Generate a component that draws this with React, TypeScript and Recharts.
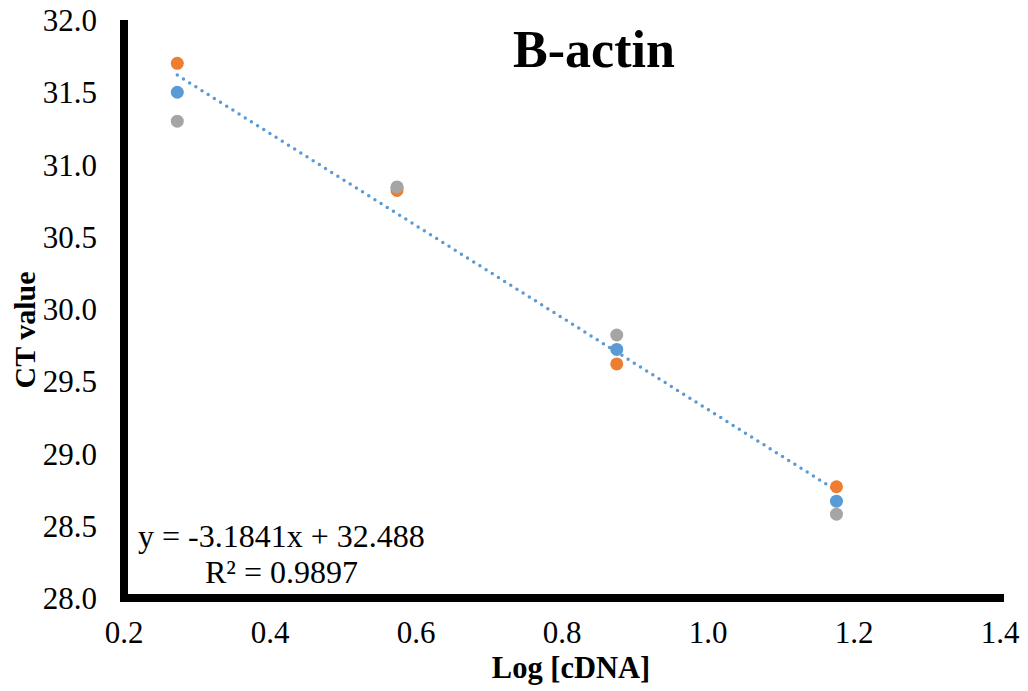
import React from 'react';
import { ScatterChart, Scatter, XAxis, YAxis, Customized } from 'recharts';

const xValues = [0.273, 0.574, 0.875, 1.176];
const series1 = [31.5, 30.84, 29.72, 28.67];
const series2 = [31.7, 30.82, 29.62, 28.77];
const series3 = [31.3, 30.845, 29.82, 28.58];
const xTicks = [0.2, 0.4, 0.6, 0.8, 1.0, 1.2, 1.4];
const yTicks = [28.0, 28.5, 29.0, 29.5, 30.0, 30.5, 31.0, 31.5, 32.0];
const slope = -3.1841;
const intercept = 32.488;
const r2 = 0.9897;

const toPoints = (ys: number[]) => xValues.map((x, i) => ({ x, y: ys[i] }));
const d1 = toPoints(series1);
const d2 = toPoints(series2);
const d3 = toPoints(series3);
const xMin = xValues[0];
const xMax = xValues[xValues.length - 1];
const trend = [
  { x: xMin, y: slope * xMin + intercept },
  { x: xMax, y: slope * xMax + intercept },
];

const FONT = "'Liberation Serif', 'Times New Roman', serif";
const BLUE = '#5B9BD5';
const ORANGE = '#ED7D31';
const GRAY = '#A5A5A5';

const dot = (color: string) => (props: any) => (
  <circle cx={props.cx} cy={props.cy} r={6.5} fill={color} />
);

const serif = { fontFamily: FONT };

const Texts = () => (
  <g fill="#000">
    <text x={594} y={67} textAnchor="middle" fontSize={52} fontWeight="bold" style={serif}>B-actin</text>
    <text x={138} y={547} fontSize={32} style={serif}>{`y = ${slope}x + ${intercept}`}</text>
    <text x={205} y={583} fontSize={32} style={serif}>{`R² = ${r2}`}</text>
    <text x={571} y={678} textAnchor="middle" fontSize={30.5} fontWeight="bold" style={serif}>Log [cDNA]</text>
    <text x={35} y={330} textAnchor="middle" fontSize={30} fontWeight="bold" style={serif} transform="rotate(-90, 35, 330)">CT value</text>
  </g>
);

const XTick = (props: any) => (
  <text x={props.x} y={props.y} dy="0.71em" textAnchor="middle" fontSize={31} fill="#000" style={serif}>
    {Number(props.payload.value).toFixed(1)}
  </text>
);

const YTick = (props: any) => (
  <text x={props.x} y={props.y} dy="0.355em" textAnchor="end" fontSize={31} fill="#000" style={serif}>
    {Number(props.payload.value).toFixed(1)}
  </text>
);

export default function App() {
  return (
    <div style={{ position: 'absolute', left: 0, top: 0, width: 1028, height: 691, background: '#fff', fontFamily: FONT }}>
      <ScatterChart width={1028} height={691} margin={{ top: 20, right: 28, bottom: 0, left: 0 }} style={serif}>
        <XAxis
          type="number"
          dataKey="x"
          domain={[0.2, 1.4]}
          ticks={xTicks}
          allowDataOverflow
          height={93}
          tickLine={false}
          tickSize={0}
          tickMargin={23}
          axisLine={{ stroke: '#000', strokeWidth: 8, strokeLinecap: 'square' }}
          tick={<XTick />}
        />
        <YAxis
          type="number"
          dataKey="y"
          domain={[28, 32]}
          ticks={yTicks}
          allowDataOverflow
          width={124}
          tickLine={false}
          tickSize={0}
          tickMargin={27}
          axisLine={{ stroke: '#000', strokeWidth: 8 }}
          tick={<YTick />}
        />
        <Scatter
          data={trend}
          isAnimationActive={false}
          shape={() => <g />}
          line={{ stroke: BLUE, strokeWidth: 3.5, strokeDasharray: '0 7.3', strokeLinecap: 'round' }}
        />
        <Scatter data={d1} isAnimationActive={false} shape={dot(BLUE)} />
        <Scatter data={d2} isAnimationActive={false} shape={dot(ORANGE)} />
        <Scatter data={d3} isAnimationActive={false} shape={dot(GRAY)} />
        <Customized component={Texts} />
      </ScatterChart>
    </div>
  );
}
